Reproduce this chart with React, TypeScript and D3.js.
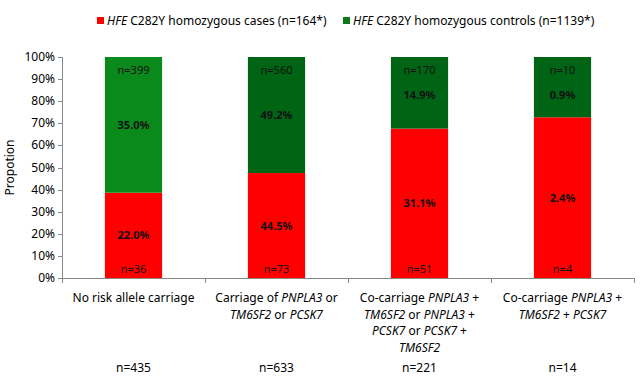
import React from "react";
import * as d3 from "d3";

const categories = [
  [[{ t: "No risk allele carriage", i: false }]],
  [
    [{ t: "Carriage of ", i: false }, { t: "PNPLA3", i: true }, { t: " or", i: false }],
    [{ t: "TM6SF2", i: true }, { t: " or ", i: false }, { t: "PCSK7", i: true }],
  ],
  [
    [{ t: "Co-carriage ", i: false }, { t: "PNPLA3", i: true }, { t: " +", i: false }],
    [{ t: "TM6SF2", i: true }, { t: " or ", i: false }, { t: "PNPLA3", i: true }, { t: " +", i: false }],
    [{ t: "PCSK7", i: true }, { t: " or ", i: false }, { t: "PCSK7", i: true }, { t: " +", i: false }],
    [{ t: "TM6SF2", i: true }],
  ],
  [
    [{ t: "Co-carriage ", i: false }, { t: "PNPLA3", i: true }, { t: " +", i: false }],
    [{ t: "TM6SF2", i: true }, { t: " + ", i: false }, { t: "PCSK7", i: true }],
  ],
];
const casePct = [22.0, 44.5, 31.1, 2.4];
const controlPct = [35.0, 49.2, 14.9, 0.9];
const caseN = [36, 73, 51, 4];
const controlN = [399, 560, 170, 10];
const totalN = [435, 633, 221, 14];
const controlColors = ["#0B8A1C", "#006415", "#006415", "#006415"];
const yTicks = [0, 0.1, 0.2, 0.3, 0.4, 0.5, 0.6, 0.7, 0.8, 0.9, 1];

const W = 640, H = 383;
const m = { left: 62, right: 6, top: 57, bottom: 105 };
const FONT = "'Noto Sans', 'Open Sans', sans-serif";

export default function App() {
  const x = d3.scaleBand<number>().domain(d3.range(4)).range([m.left, W - m.right]).paddingInner(0.6).paddingOuter(0.3);
  const y = d3.scaleLinear().domain([0, 1]).range([H - m.bottom, m.top]);
  const step = x.step();
  const x0 = m.left, x1 = W - m.right;
  const boundaries = d3.range(5).map((i) => x0 + ((x1 - x0) / 4) * i);
  const bandW = (x1 - x0) / 4;
  const bw = bandW * 0.4;
  const cx = (i: number) => x0 + bandW * (i + 0.5);
  return (
    <svg width={W} height={H} style={{ position: "absolute", left: 0, top: 0, background: "#fff" }} fontFamily={FONT}>
      {/* legend */}
      <g fontSize={12} fill="#000">
        <rect x={97} y={17} width={7} height={7} fill="#FF0000" />
        <text x={107} y={25}>
          <tspan fontStyle="italic">HFE</tspan>
          <tspan> C282Y homozygous cases (n=164*)</tspan>
        </text>
        <rect x={343} y={17} width={7} height={7} fill="#0B7A1A" />
        <text x={353} y={25}>
          <tspan fontStyle="italic">HFE</tspan>
          <tspan> C282Y homozygous controls (n=1139*)</tspan>
        </text>
      </g>
      {/* bars */}
      {casePct.map((c, i) => {
        const p = c / (c + controlPct[i]);
        const left = cx(i) - bw / 2;
        return (
          <g key={i}>
            <rect x={left} y={y(p)} width={bw} height={y(0) - y(p)} fill="#FF0000" />
            <rect x={left} y={y(1)} width={bw} height={y(p) - y(1)} fill={controlColors[i]} />
          </g>
        );
      })}
      {/* labels */}
      <g fontSize={11} textAnchor="middle" fill="#111">
        {casePct.map((c, i) => {
          const p = c / (c + controlPct[i]);
          const redMid = (y(p) + y(0)) / 2;
          const greenMid = Math.max((y(p) + y(1)) / 2, y(1) + 38);
          return (
            <g key={i}>
              <text x={cx(i)} y={y(1) + 17}>n={controlN[i]}</text>
              <text x={cx(i)} y={greenMid + 4} fontWeight="bold">{controlPct[i].toFixed(1)}%</text>
              <text x={cx(i)} y={redMid + 4} fontWeight="bold">{c.toFixed(1)}%</text>
              <text x={cx(i)} y={y(0) - 5}>n={caseN[i]}</text>
            </g>
          );
        })}
      </g>
      {/* y axis */}
      <g stroke="#888" strokeWidth={1}>
        <line x1={m.left + 0.5} x2={m.left + 0.5} y1={y(1)} y2={y(0)} />
        {yTicks.map((t) => (
          <line key={t} x1={m.left - 4} x2={m.left} y1={Math.round(y(t)) + 0.5} y2={Math.round(y(t)) + 0.5} />
        ))}
        <line x1={x0} x2={x1} y1={y(0) + 0.5} y2={y(0) + 0.5} />
        {boundaries.map((b, i) => (
          <line key={i} x1={Math.round(b) + 0.5} x2={Math.round(b) + 0.5} y1={y(0)} y2={y(0) + 5} />
        ))}
      </g>
      <g fontSize={12} textAnchor="end" fill="#000">
        {yTicks.map((t) => (
          <text key={t} x={m.left - 7} y={y(t) + 4}>{d3.format(".0%")(t)}</text>
        ))}
      </g>
      <text transform={`translate(14,${(y(0) + y(1)) / 2}) rotate(-90)`} textAnchor="middle" fontSize={12}>Propotion</text>
      {/* category labels */}
      <g fontSize={12} textAnchor="middle" fill="#000">
        {categories.map((lines, i) => (
          <g key={i}>
            {lines.map((segs, j) => (
              <text key={j} x={cx(i)} y={302 + j * 16.6}>
                {segs.map((s, k) => (
                  <tspan key={k} fontStyle={s.i ? "italic" : "normal"}>{s.t}</tspan>
                ))}
              </text>
            ))}
            <text x={cx(i)} y={372}>n={totalN[i]}</text>
          </g>
        ))}
      </g>
    </svg>
  );
}
